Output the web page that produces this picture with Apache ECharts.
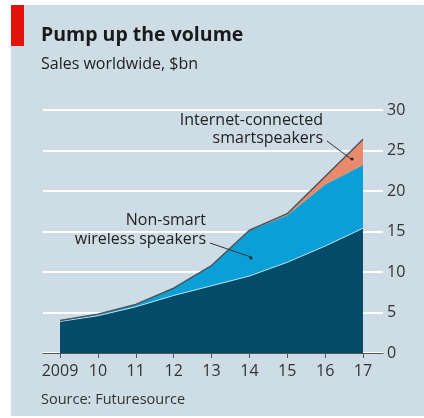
<!DOCTYPE html>
<html>
<head>
<meta charset="utf-8">
<script src="https://cdn.jsdelivr.net/npm/echarts@6/dist/echarts.min.js"></script>
<style>
  html, body { margin: 0; padding: 0; background: #fff; }
  #panel { position: absolute; left: 11px; top: 5px; width: 413px; height: 411px; background: #cddce5; }
  #chart { position: absolute; left: 0; top: 0; width: 424px; height: 418px; }
</style>
</head>
<body>
<div id="panel"></div>
<div id="chart"></div>
<script>
// years on the x axis
var years = ["2009", "10", "11", "12", "13", "14", "15", "16", "17"];
// sales, $bn (stacked)
var headphones = [3.9, 4.6, 5.7, 7.1, 8.3, 9.5, 11.2, 13.2, 15.4];
var nonSmart = [0.1, 0.2, 0.3, 0.9, 2.5, 5.6, 5.8, 7.6, 7.8];
var smartSpeakers = [0, 0, 0, 0, 0, 0.05, 0.2, 1.0, 3.2];
var yTicks = [0, 5, 10, 15, 20, 25, 30];

var font = "Open Sans";
var myChart = echarts.init(document.getElementById("chart"));

var option = {
  animation: false,
  textStyle: { fontFamily: font },
  grid: [
    // data grid
    { left: 60, right: 61, top: 110, bottom: 65 },
    // wider grid for gridlines, baseline and labels
    { left: 43, right: 41, top: 110, bottom: 65 }
  ],
  xAxis: [
    {
      type: "category",
      gridIndex: 0,
      data: years,
      boundaryGap: false,
      axisLine: { show: false },
      axisTick: { show: true, length: 5, lineStyle: { color: "#555", width: 1 } },
      axisLabel: { color: "#333", fontSize: 16, margin: 10, interval: 0 }
    },
    {
      type: "value",
      gridIndex: 1,
      min: 0,
      max: 1,
      axisLine: { show: true, lineStyle: { color: "#555", width: 1.2 } },
      axisTick: { show: false },
      axisLabel: { show: false },
      splitLine: { show: false }
    }
  ],
  yAxis: [
    {
      type: "value",
      gridIndex: 0,
      min: 0,
      max: 30,
      show: false
    },
    {
      type: "value",
      gridIndex: 1,
      position: "right",
      min: yTicks[0],
      max: yTicks[yTicks.length - 1],
      interval: 5,
      axisLine: { show: false },
      axisTick: { show: false },
      axisLabel: { color: "#333", fontSize: 16, margin: 4 },
      splitLine: { show: true, lineStyle: { color: "#ffffff", width: 2 } }
    }
  ],
  series: [
    {
      name: "Headphones",
      type: "line",
      stack: "total",
      data: headphones,
      symbol: "none",
      lineStyle: { color: "#b5e0f2", width: 1 },
      areaStyle: { color: "#024b69", opacity: 1 },
      z: 3
    },
    {
      name: "Non-smart wireless speakers",
      type: "line",
      stack: "total",
      data: nonSmart,
      symbol: "none",
      lineStyle: { width: 0 },
      areaStyle: { color: "#0a9fd6", opacity: 1 },
      z: 2
    },
    {
      name: "Internet-connected smartspeakers",
      type: "line",
      stack: "total",
      data: smartSpeakers,
      symbol: "none",
      lineStyle: { color: "#4a555c", width: 1.5 },
      areaStyle: { color: "#e98a6d", opacity: 1 },
      z: 4
    }
  ],
  graphic: [
    { type: "rect", shape: { x: 11, y: 5, width: 13, height: 41 }, style: { fill: "#e3120b" } },
    { type: "text", left: 41, top: 25, style: { text: "Pump up the volume", fontFamily: font, fontSize: 19.5, fontWeight: "bold", fill: "#1a1a1a" } },
    { type: "text", left: 41, top: 56, style: { text: "Sales worldwide, $bn", fontFamily: font, fontSize: 16, fill: "#222" } },
    { type: "text", left: 41, top: 392, style: { text: "Source: Futuresource", fontFamily: font, fontSize: 14.5, fill: "#333" } },
    { type: "text", x: 323, y: 111, style: { text: "Internet-connected\nsmartspeakers", fontFamily: font, fontSize: 16, lineHeight: 18, fill: "#222", align: "right" } },
    { type: "text", x: 206, y: 211, style: { text: "Non-smart\nwireless speakers", fontFamily: font, fontSize: 16, lineHeight: 19, fill: "#222", align: "right" } },
    { type: "text", x: 270, y: 306, style: { text: "Headphones", fontFamily: font, fontSize: 17, fontWeight: "bold", fill: "#fff", align: "center" } },
    { type: "line", shape: { x1: 327, y1: 141, x2: 351, y2: 159 }, style: { stroke: "#333", lineWidth: 1 }, z: 10 },
    { type: "circle", shape: { cx: 352, cy: 159, r: 1.5 }, style: { fill: "#222" }, z: 10 },
    { type: "line", shape: { x1: 210, y1: 243, x2: 251, y2: 257 }, style: { stroke: "#333", lineWidth: 1 }, z: 10 },
    { type: "circle", shape: { cx: 251, cy: 258, r: 1.5 }, style: { fill: "#222" }, z: 10 }
  ]
};

myChart.setOption(option);
</script>
</body>
</html>
